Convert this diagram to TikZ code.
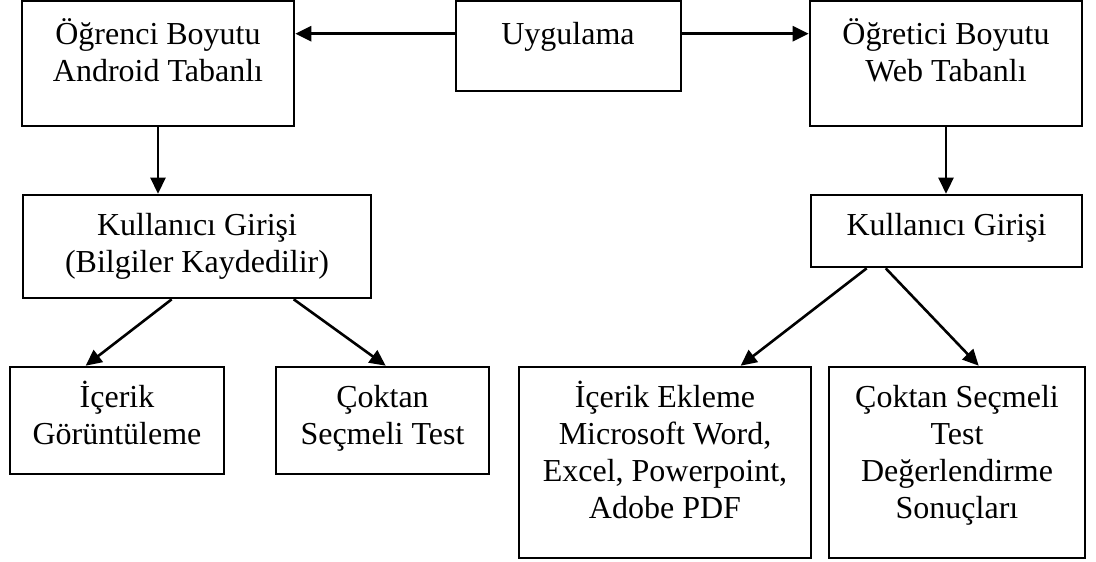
\documentclass[tikz,border=0pt]{standalone}
\usepackage{fontspec}
\setmainfont{Liberation Serif}
\usetikzlibrary{arrows.meta}
\begin{document}
\begin{tikzpicture}[x=1pt,y=1pt,
  box/.style={draw=black, line width=2.6pt, inner sep=0pt, rectangle},
  txt/.style={anchor=north, align=center, inner sep=0pt, font=\fontsize{32}{37}\selectfont},
  arr/.style={draw=black, line width=2.6pt, -{Triangle[length=16pt,width=15pt]}}]
\useasboundingbox (0,0) rectangle (1096,-562);
\newcommand{\fl}{\rule{0pt}{30pt}}
% boxes
\node[box, minimum width=272pt, minimum height=125pt] (A) at (158,-63.5) {};
\node[box, minimum width=225pt, minimum height=90pt] (U) at (568.5,-46) {};
\node[box, minimum width=272pt, minimum height=125pt] (B) at (946,-63.5) {};
\node[box, minimum width=348pt, minimum height=103pt] (C) at (197,-246.5) {};
\node[box, minimum width=271pt, minimum height=72pt] (D) at (946.5,-231) {};
\node[box, minimum width=214pt, minimum height=107pt] (E) at (117,-420.5) {};
\node[box, minimum width=213pt, minimum height=107pt] (F) at (382.5,-420.5) {};
\node[box, minimum width=292pt, minimum height=191pt] (G) at (665,-462.5) {};
\node[box, minimum width=256pt, minimum height=191pt] (H) at (957,-462.5) {};
% texts
\node[txt] (tA) at (158,-14) {\fl Öğrenci Boyutu\\Android Tabanlı};
\node[txt] (tU) at (568,-14) {\fl Uygulama};
\node[txt] (tB) at (946,-14) {\fl Öğretici Boyutu\\Web Tabanlı};
\node[txt] (tC) at (197,-205) {\fl Kullanıcı Girişi\\(Bilgiler Kaydedilir)};
\node[txt] (tD) at (946.5,-205) {\fl Kullanıcı Girişi};
\node[txt] (tE) at (117,-377) {\fl İçerik\\Görüntüleme};
\node[txt] (tF) at (382.5,-377) {\fl Çoktan\\Seçmeli Test};
\node[txt] (tG) at (665,-377) {\fl İçerik Ekleme\\Microsoft Word,\\Excel, Powerpoint,\\Adobe PDF};
\node[txt] (tH) at (957,-377) {\fl Çoktan Seçmeli\\Test\\Değerlendirme\\Sonuçları};
% connectors
\draw[arr] ([yshift=-34pt]U.north west) -- ([yshift=-34pt]A.north east);
\draw[arr] ([yshift=-34pt]U.north east) -- ([yshift=-34pt]B.north west);
\draw[arr] (A.south) -- (A.south |- C.north);
\draw[arr] (B.south) -- (B.south |- D.north);
\draw[arr] ([xshift=150pt]C.south west) -- ([xshift=77pt]E.north west);
\draw[arr] ([xshift=272pt]C.south west) -- ([xshift=111pt]F.north west);
\draw[arr] ([xshift=57pt]D.south west) -- ([xshift=223pt]G.north west);
\draw[arr] ([xshift=76pt]D.south west) -- ([xshift=151pt]H.north west);
\end{tikzpicture}
\end{document}
